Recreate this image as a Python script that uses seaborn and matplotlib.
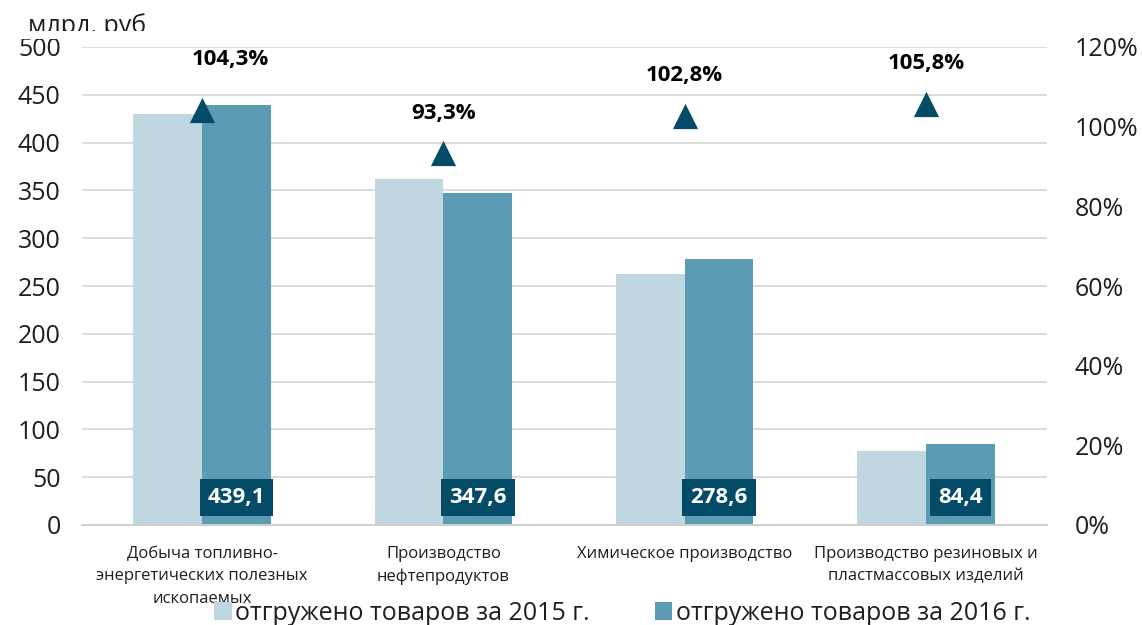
import numpy as np
import pandas as pd
import matplotlib.pyplot as plt
import seaborn as sns
from matplotlib.patches import Rectangle
from matplotlib.ticker import PercentFormatter

# данные
categories = ["Добыча топливно-\nэнергетических полезных\nископаемых",
              "Производство\nнефтепродуктов",
              "Химическое производство",
              "Производство резиновых и\nпластмассовых изделий"]
values_2015 = [429.9, 361.5, 262.5, 77.7]
values_2016 = [439.1, 347.6, 278.6, 84.4]
growth = [104.3, 93.3, 102.8, 105.8]
labels_2016 = ["439,1", "347,6", "278,6", "84,4"]
growth_labels = ["104,3%", "93,3%", "102,8%", "105,8%"]
series = ["отгружено товаров за 2015 г.", "отгружено товаров за 2016 г."]

df = pd.DataFrame({
    "cat": categories * 2,
    "val": values_2015 + values_2016,
    "series": [series[0]] * 4 + [series[1]] * 4,
})

sns.set_theme(style="white")
plt.rcParams["font.family"] = ["Open Sans", "DejaVu Sans"]

light = "#C0D7E1"
mid = "#5B9BB4"
dark = "#034B66"
txt = "#1E1E1E"

fig = plt.figure(figsize=(11.42, 6.25), dpi=100)
ax = fig.add_axes([0.0714, 0.16, 0.845, 0.7648])

sns.barplot(data=df, x="cat", y="val", hue="series", palette=[light, mid],
            width=0.57, linewidth=0, saturation=1, ax=ax, legend=True)
ax.set_ylim(0, 500)
ax.set_yticks(np.arange(0, 501, 50))
ax.set_xlim(-0.5, 3.5)
ax.grid(axis="y", color="#D9D9D9", linewidth=1.3)
ax.set_axisbelow(True)
for s in ["top", "left", "right"]:
    ax.spines[s].set_visible(False)
ax.spines["bottom"].set_color("#D0D0D0")
ax.spines["bottom"].set_linewidth(1.5)
ax.set_xlabel("")
ax.set_ylabel("")
ax.tick_params(axis="y", labelsize=18, colors=txt, length=0, pad=15)
ax.tick_params(axis="x", labelsize=12, colors=txt, length=0, pad=15)
for t in ax.get_xticklabels():
    t.set_linespacing(1.55)

# подписи значений 2016
for i, lab in enumerate(labels_2016):
    ax.annotate(lab, (i + 0.1425, 29), ha="center", va="center",
                fontsize=16, fontweight="bold", color="white",
                bbox=dict(boxstyle="square,pad=0.36", fc=dark, ec="none"))

# вторая ось - темп роста
ax2 = ax.twinx()
sns.scatterplot(x=np.arange(4), y=growth, marker="^", s=330, color=dark,
                linewidth=0, ax=ax2, zorder=5)
ax2.set_ylim(0, 120)
ax2.set_yticks(np.arange(0, 121, 20))
ax2.yaxis.set_major_formatter(PercentFormatter(decimals=0))
ax2.tick_params(axis="y", labelsize=18, colors=txt, length=0, pad=20)
for s in ax2.spines.values():
    s.set_visible(False)
offsets = [(20, 36), (0, 29), (0, 29), (0, 29)]
for i, lab in enumerate(growth_labels):
    ax2.annotate(lab, (i, growth[i]), xytext=offsets[i], textcoords="offset points",
                 ha="center", va="center", fontsize=16, fontweight="bold", color="black")

# легенда
handles, leg_labels = ax.get_legend_handles_labels()
ax.get_legend().remove()
fig.legend(handles, leg_labels, loc="lower center", bbox_to_anchor=(0.545, -0.037),
           ncol=2, frameon=False, fontsize=18, handlelength=0.7, handleheight=0.7,
           handletextpad=0.15, columnspacing=2.6, labelcolor=txt)

# единицы измерения (обрезаны снизу, как в оригинале)
fig.text(28 / 1142, 1 - 33 / 625, "млрд. руб", fontsize=18, color=txt,
         ha="left", va="baseline", zorder=1)
fig.add_artist(Rectangle((0, 1 - 39 / 625), 300 / 1142, 8 / 625,
                         transform=fig.transFigure, fc="white", ec="none", zorder=2))

fig.savefig("out.png", dpi=100)
